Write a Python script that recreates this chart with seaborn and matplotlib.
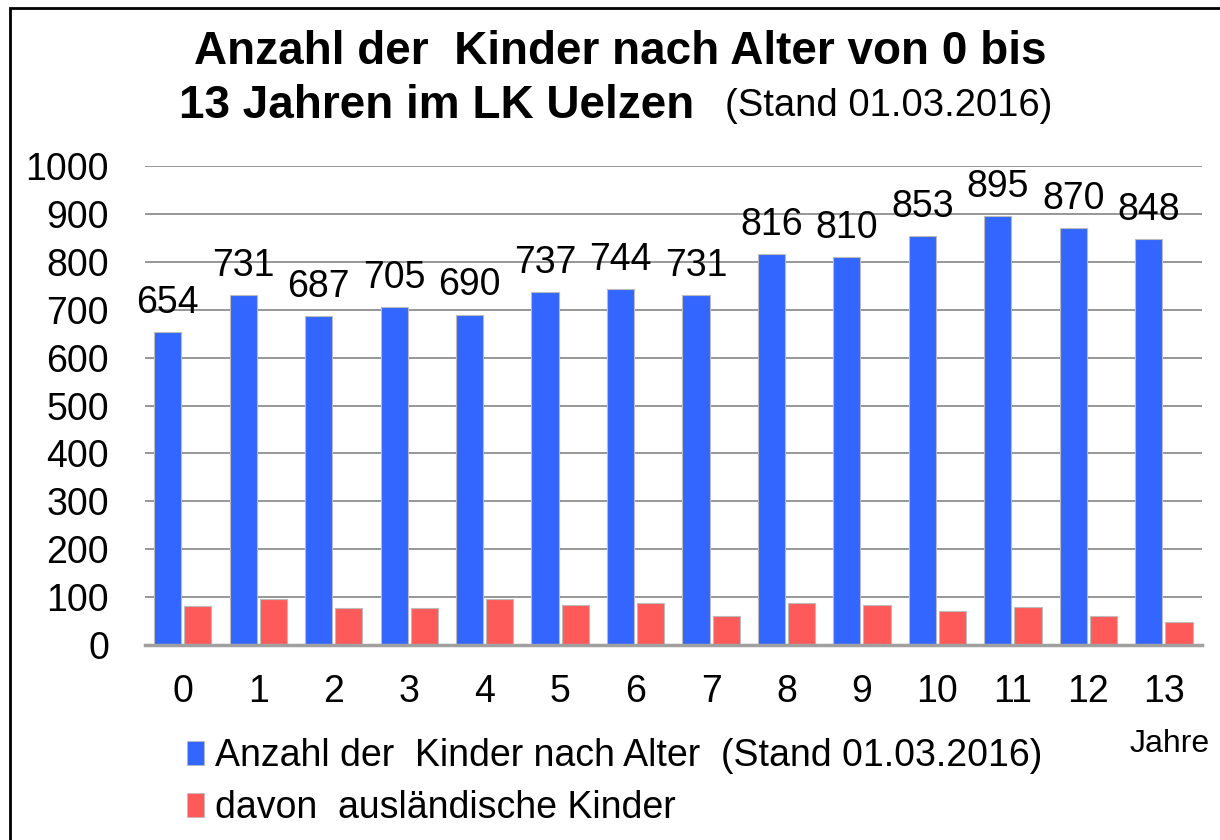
import pandas as pd
import matplotlib
matplotlib.use("Agg")
import matplotlib.pyplot as plt
import seaborn as sns
from matplotlib.patches import Patch, Rectangle

# Daten
alter = [str(i) for i in range(14)]
kinder = [654, 731, 687, 705, 690, 737, 744, 731, 816, 810, 853, 895, 870, 848]
auslaendisch = [82, 97, 77, 77, 97, 84, 87, 60, 87, 84, 71, 79, 60, 49]
serie_namen = ["Anzahl der  Kinder nach Alter  (Stand 01.03.2016)",
               "davon  ausländische Kinder"]
farben = ["#3366ff", "#ff5a5a"]

df = pd.DataFrame({
    "Alter": alter * 2,
    "Wert": kinder + auslaendisch,
    "Serie": [serie_namen[0]] * len(alter) + [serie_namen[1]] * len(alter),
})

sns.set_style("white")
plt.rcParams['font.family'] = ['Liberation Sans', 'DejaVu Sans']
plt.rcParams['text.color'] = 'black'
plt.rcParams['xtick.color'] = 'black'
plt.rcParams['ytick.color'] = 'black'
plt.rcParams['axes.labelcolor'] = 'black'

fig = plt.figure(figsize=(12.2, 8.4), dpi=100)
ax = fig.add_axes([0.1189, 0.2321, 0.866, 0.5702])

sns.barplot(data=df, x="Alter", y="Wert", hue="Serie", hue_order=serie_namen,
            palette=farben, width=0.8, gap=0.1, edgecolor="#bbbbbb",
            linewidth=0.8, saturation=1, legend=False, ax=ax)

# Werte nur über den blauen Balken
ax.bar_label(ax.containers[0], fontsize=27, padding=8, color="black")

ax.set_ylim(0, 1000)
ax.set_xlim(-0.5, 13.5)
ax.set_yticks(range(0, 1001, 100))
ax.yaxis.grid(True, color="#858585", linewidth=1.2)
ax.set_axisbelow(True)
for s in ["left", "right", "top"]:
    ax.spines[s].set_visible(False)
ax.spines["bottom"].set_color("#a0a0a0")
ax.spines["bottom"].set_linewidth(2.5)
ax.tick_params(axis="both", length=0, labelsize=27)
ax.tick_params(axis="x", pad=21)
ax.tick_params(axis="y", pad=26)
ax.set_xlabel("")
ax.set_ylabel("")

# Titel
fig.text(0.508, 0.938, "Anzahl der  Kinder nach Alter von 0 bis",
         ha="center", va="center", fontsize=33, fontweight="bold")
fig.text(0.147, 0.874, "13 Jahren im LK Uelzen", ha="left", va="center",
         fontsize=33, fontweight="bold")
fig.text(0.594, 0.874, "(Stand 01.03.2016)", ha="left", va="center",
         fontsize=27.5)

fig.text(0.926, 0.114, "Jahre", ha="left", va="center", fontsize=23)

# Legende
handles = [Patch(facecolor=c, edgecolor="#bbbbbb", linewidth=0.5) for c in farben]
fig.legend(handles, serie_namen, loc="upper left", bbox_to_anchor=(0.141, 0.139),
           frameon=False, fontsize=27, handlelength=0.45, handleheight=0.6,
           handletextpad=0.3, labelspacing=0.42, borderaxespad=0)

# Rahmen
fig.add_artist(Rectangle((10 / 1220, -0.1), 1.5, 0.1 + (840 - 8) / 840,
                         transform=fig.transFigure, fill=False,
                         edgecolor="black", linewidth=2))

fig.savefig("out.png", dpi=100)
